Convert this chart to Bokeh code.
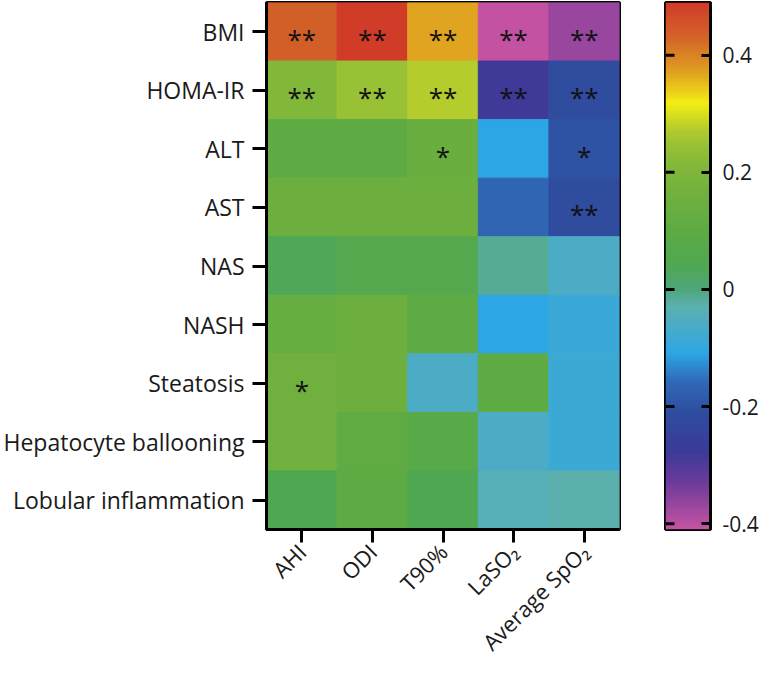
import numpy as np
from bokeh.plotting import figure
from bokeh.models import (FactorRange, Range1d, LinearAxis, FixedTicker,
                          CustomJSTickFormatter, LinearColorMapper, ColumnDataSource)
from bokeh.layouts import row
from bokeh.embed import file_html
from bokeh.resources import INLINE
from bokeh.core.properties import value

# ---------------- data ----------------
rows = ["BMI", "HOMA-IR", "ALT", "AST", "NAS", "NASH", "Steatosis",
        "Hepatocyte ballooning", "Lobular inflammation"]
cols = ["AHI", "ODI", "T90%", "LaSO₂", "Average SpO₂"]

v_bmi = [0.44, 0.49, 0.37, -0.41, -0.37]
v_homa = [0.21, 0.245, 0.275, -0.28, -0.215]
v_alt = [0.10, 0.10, 0.14, -0.11, -0.20]
v_ast = [0.15, 0.15, 0.15, -0.165, -0.215]
v_nas = [0.035, 0.06, 0.06, -0.015, -0.06]
v_nash = [0.13, 0.15, 0.10, -0.11, -0.09]
v_steat = [0.16, 0.15, -0.06, 0.10, -0.085]
v_hep = [0.16, 0.11, 0.08, -0.06, -0.085]
v_lob = [0.04, 0.10, 0.045, -0.04, -0.03]

s_bmi = ["**", "**", "**", "**", "**"]
s_homa = ["**", "**", "**", "**", "**"]
s_alt = ["", "", "*", "", "*"]
s_ast = ["", "", "", "", "**"]
s_nas = ["", "", "", "", ""]
s_nash = ["", "", "", "", ""]
s_steat = ["*", "", "", "", ""]
s_hep = ["", "", "", "", ""]
s_lob = ["", "", "", "", ""]

cb_low, cb_high = -0.41, 0.49
cb_ticks = [-0.4, -0.2, 0, 0.2, 0.4]

values = [v_bmi, v_homa, v_alt, v_ast, v_nas, v_nash, v_steat, v_hep, v_lob]
sigs = [s_bmi, s_homa, s_alt, s_ast, s_nas, s_nash, s_steat, s_hep, s_lob]

# ---------------- colormap ----------------
anchor_v = [-0.41, -0.33, -0.28, -0.21, -0.16, -0.11, -0.06, -0.03, 0.0,
            0.04, 0.10, 0.16, 0.21, 0.245, 0.275, 0.32, 0.37, 0.43, 0.49]
anchor_c = ["#c452a2", "#6a3a9a", "#3c3a98", "#2e4ea0", "#3068b6", "#2ca6e4",
            "#4cacc6", "#5cb0b0", "#4ea67a", "#4fa752", "#5dab44", "#70b03e",
            "#80b83a", "#98c036", "#b4cc2c", "#f4ee14", "#e0a420", "#d46628",
            "#d03c28"]


def h2r(h):
    return [int(h[i:i + 2], 16) for i in (1, 3, 5)]


rgb = np.array([h2r(c) for c in anchor_c], dtype=float)
palette = []
for t in np.linspace(cb_low, cb_high, 256):
    r = np.interp(t, anchor_v, rgb[:, 0])
    g = np.interp(t, anchor_v, rgb[:, 1])
    b = np.interp(t, anchor_v, rgb[:, 2])
    palette.append("#%02x%02x%02x" % (int(round(r)), int(round(g)), int(round(b))))

mapper = LinearColorMapper(palette=palette, low=cb_low, high=cb_high)

xs, ys, vs, ss = [], [], [], []
for rname, vals, sg in zip(rows, values, sigs):
    for cname, v, s in zip(cols, vals, sg):
        xs.append(cname)
        ys.append(rname)
        vs.append(v)
        ss.append(s)
src = ColumnDataSource(dict(col=xs, row=ys, val=vs, sig=ss))

FONT = "Open Sans"
TXT = "#1a1a1a"

# ---------------- heatmap ----------------
p = figure(x_range=FactorRange(*cols), y_range=FactorRange(*rows[::-1]),
           frame_width=353, frame_height=527,
           min_border_left=266, min_border_top=2, min_border_right=20,
           min_border_bottom=100,
           output_backend="svg", toolbar_location=None, tools="")
p.rect(x="col", y="row", width=1, height=1, source=src,
       fill_color={"field": "val", "transform": mapper},
       line_color={"field": "val", "transform": mapper}, line_width=1)
p.text(x="col", y="row", text="sig", source=src, text_font=value(FONT),
       text_font_size="26px", text_align="center", text_baseline="middle",
       y_offset=7, text_color="#111111")

p.outline_line_color = "black"
p.outline_line_width = 3
p.outline_line_alpha = 1
p.grid.visible = False
p.background_fill_color = "white"
p.border_fill_color = "white"
for ax in (p.xaxis[0], p.yaxis[0]):
    ax.axis_line_color = "black"
    ax.axis_line_width = 3
    ax.major_tick_line_color = "black"
    ax.major_tick_line_width = 3
    ax.major_tick_in = 0
    ax.major_tick_out = 14
    ax.minor_tick_line_color = None
    ax.major_label_text_font = FONT
    ax.major_label_text_color = TXT
p.yaxis.major_label_text_font_size = "23px"
p.yaxis.major_label_standoff = 8
p.xaxis.major_label_text_font_size = "22px"
p.xaxis.major_label_standoff = 5
p.xaxis.major_tick_out = 13
p.xaxis.major_label_orientation = np.pi / 4

# ---------------- colorbar ----------------
grad = np.linspace(cb_low, cb_high, 400).reshape(-1, 1)
p2 = figure(x_range=Range1d(0, 1), y_range=Range1d(cb_low, cb_high),
            frame_width=45, frame_height=527,
            min_border_left=26, min_border_top=2, min_border_right=0,
            min_border_bottom=100,
            x_axis_location=None, y_axis_location=None,
            output_backend="svg", toolbar_location=None, tools="")
p2.image(image=[grad], x=0, y=cb_low, dw=1, dh=cb_high - cb_low, color_mapper=mapper)
# inner tick marks on the left edge of the colour bar, at the tick values
p2.segment(x0=0, x1=0.2, y0=cb_ticks, y1=cb_ticks, line_color="black", line_width=3)
p2.grid.visible = False
p2.outline_line_color = "black"
p2.outline_line_width = 3
p2.outline_line_alpha = 1
p2.border_fill_color = "white"

fmt = CustomJSTickFormatter(code="return Math.abs(tick) < 1e-9 ? '0' : tick.toFixed(1);")
ax = LinearAxis(ticker=FixedTicker(ticks=cb_ticks), formatter=fmt)
ax.axis_line_color = "black"
ax.axis_line_width = 3
ax.major_tick_line_color = "black"
ax.major_tick_line_width = 3
ax.major_tick_in = 9
ax.major_tick_out = 0
ax.minor_tick_line_color = None
ax.major_label_text_font = FONT
ax.major_label_text_font_size = "21px"
ax.major_label_text_color = TXT
ax.major_label_standoff = 12
p2.add_layout(ax, "right")

layout = row(p, p2)
open("out.html", "w").write(file_html(layout, INLINE))
